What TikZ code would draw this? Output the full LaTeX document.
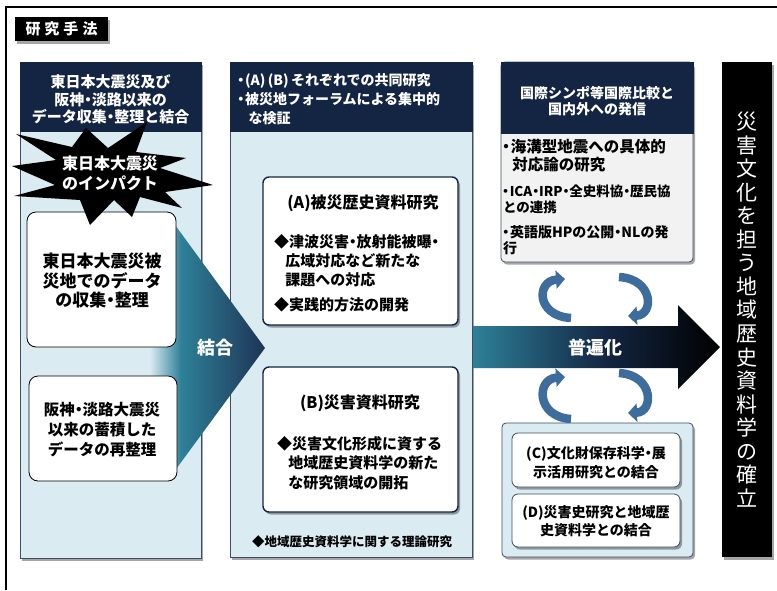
\documentclass[tikz,border=0pt]{standalone}
\usepackage{fontspec}
\setmainfont{Noto Sans CJK JP}
\usetikzlibrary{shadows,arrows.meta}
\definecolor{navy}{RGB}{19,37,66}
\definecolor{lbg}{RGB}{218,235,242}
\definecolor{bord}{RGB}{60,78,99}
\definecolor{rbody}{RGB}{242,242,242}
\definecolor{tealc}{RGB}{46,128,152}
\definecolor{navyc}{RGB}{30,52,85}
\definecolor{arrowblue}{RGB}{62,108,156}
\pgfdeclarehorizontalshading{ketsugo}{100bp}{color(0bp)=(lbg); color(27bp)=(lbg); color(40bp)=(tealc); color(75bp)=(navyc); color(100bp)=(navyc)}
\pgfdeclarehorizontalshading{fuhen}{100bp}{color(0bp)=(tealc); color(25bp)=(tealc); color(52bp)=(navy); color(75bp)=(black); color(100bp)=(black)}
\newcommand{\mydot}{\kern-0.25em・\kern-0.25em}
\newcommand{\lead}{\kern-0.3em・\kern-0.2em}
\newcommand{\fs}[2]{\fontsize{#1}{#2}\selectfont}
\begin{document}
\begin{tikzpicture}[x=1pt,y=-1pt,
  shad/.style={drop shadow={shadow xshift=2pt,shadow yshift=-2.5pt,fill=black,opacity=0.35}},
  colbody/.style={fill=lbg,draw=bord,line width=0.8pt,shad},
  header/.style={fill=navy,draw=navy,line width=0.8pt},
  wbox/.style={fill=white,draw=black,line width=0.8pt,rounded corners=9pt},
  abbox/.style={fill=white,draw=navy,line width=1.4pt,rounded corners=6pt,shad},
  cdbox/.style={fill=white,draw=bord,line width=0.8pt,rounded corners=6pt,shad},
  txt/.style={inner sep=0pt,outer sep=0pt},
  cyc/.style={draw=arrowblue,line width=8.5pt,-{Triangle[width=18pt,length=9pt]}}]
\useasboundingbox (0,0) rectangle (777,590);
% outer frame
\draw[line width=1.2pt] (6,590) -- (6,7) -- (777,7);
% title
\fill[black,shad] (15,17) rectangle (108,41);
\node[txt,text=white,font=\fs{15}{18}\bfseries] (title) at (61.5,29) {研\hspace{4pt}究\hspace{4pt}手\hspace{4pt}法};

% left column
\path[colbody] (20,62) rectangle (201,558);
\path[header] (20,62) rectangle (201,131);
\node[txt,text=white,align=center,font=\fs{15}{17.5}\bfseries] (lhead) at (110.5,99.5)
  {東日本大震災及び\\阪神\mydot 淡路以来の\\データ収集\mydot 整理と結合};

% middle column
\path[colbody] (230,62) rectangle (472,557);
\path[header] (230,62) rectangle (472,131);
\node[txt,text=white,align=left,anchor=west,font=\fs{14}{19}\bfseries] (mhead) at (238,99)
  {\lead(A)\,(B)\,それぞれでの共同研究\\\lead 被災地フォーラムによる集中的\\\hspace*{0.75em}な検証};

% right column
\path[fill=rbody,draw=bord,line width=0.8pt,rounded corners=4pt,shad] (501,62) rectangle (693,262);
\path[header] (501,62) rectangle (693,133);
\node[txt,text=white,align=center,font=\fs{14}{16.5}\bfseries] (rhead) at (597,101)
  {国際シンポ等国際比較と\\国内外への発信};
\node[txt,align=left,anchor=west,font=\fs{15.5}{18}\bfseries] (r1) at (503,156)
  {\lead 海溝型地震への具体的\\\hspace*{0.6em}対応論の研究};
\node[txt,align=left,anchor=west,font=\fs{13.5}{15.5}\bfseries] (r2) at (503,199.5)
  {\lead ICA\mydot IRP\mydot 全史料協\mydot 歴民協\\との連携};
\node[txt,align=left,anchor=west,font=\fs{14}{16}\bfseries] (r3) at (503,240)
  {\lead 英語版HPの公開\mydot NLの発\\行};

% bottom right
\path[fill=lbg,draw=bord,line width=0.8pt,rounded corners=4pt,shad] (502,423) rectangle (693,557);
\path[cdbox] (512,433) rectangle (680,487);
\path[cdbox] (512,494) rectangle (680,547);
\node[txt,align=center,font=\fs{14}{19}\bfseries] (ctext) at (596,462.5)
  {(C)文化財保存科学\mydot 展\\示活用研究との結合};
\node[txt,align=center,font=\fs{14}{18}\bfseries] (dtext) at (596,521.5)
  {(D)災害史研究と地域歴\\史資料学との結合};

% black vertical box
\fill[black,shad] (722,62) rectangle (772,557);
\node[txt,text=white,align=center,font=\fs{21}{23.55}] (vert) at (747,309.5)
  {災\\害\\文\\化\\を\\担\\う\\地\\域\\歴\\史\\資\\料\\学\\の\\確\\立};

% ketsugo arrow
\shade[shading=ketsugo] (145,214) -- (167,214) -- (265,348) -- (168,480) -- (145,480) -- cycle;
\node[txt,text=white,font=\fs{18}{20}\bfseries] (ketsugo) at (215,348) {結合};

% fuhenka arrow
\shade[shading=fuhen] (473,326) -- (678,326) -- (678,305) -- (720,347) -- (678,389) -- (678,368) -- (473,368) -- cycle;
\node[txt,text=white,font=\fs{18}{20}\bfseries] (fuhen) at (595,348) {普遍化};

% left boxes
\path[wbox] (27,212) rectangle (176,347);
\node[txt,align=center,font=\fs{17}{19.5}\bfseries] (b1) at (102,281)
  {東日本大震災被\\災地でのデータ\\の収集\mydot 整理};
\path[wbox] (29,376) rectangle (177,481);
\node[txt,align=center,font=\fs{15.5}{20}\bfseries] (b2) at (102,430)
  {阪神\mydot 淡路大震災\\以来の蓄積した\\データの再整理};

% starburst
\fill[black] (147,122) -- (136,152) -- (186,158) -- (160,168) -- (213,185) -- (165,192) -- (182,208) -- (140,197)
  -- (132,217) -- (114,200) -- (90,225) -- (80,200) -- (14,196) -- (55,185) -- (12,166) -- (56,160)
  -- (16,134) -- (72,147) -- (86,128) -- (108,148) -- cycle;
\node[txt,text=white,align=center,font=\fs{16}{20}\bfseries] (impact) at (110,173) {東日本大震災\\のインパクト};

% box A
\path[abbox] (263,177) rectangle (458,325);
\node[txt,font=\fs{16}{18}\bfseries] (atitle) at (363,203) {(A)被災歴史資料研究};
\node[txt,align=left,anchor=west,font=\fs{15}{19}\bfseries] (abody) at (274,261)
  {◆津波災害\mydot 放射能被曝\mydot\\\hspace*{0.75em}広域対応など新たな\\\hspace*{0.75em}課題への対応};
\node[txt,anchor=west,font=\fs{15}{19}\bfseries] (abody2) at (274,305) {◆実践的方法の開発};

% box B
\path[abbox] (263,367) rectangle (458,512);
\node[txt,font=\fs{16}{18}\bfseries] (btitle) at (360,403) {(B)災害資料研究};
\node[txt,align=left,anchor=west,font=\fs{15}{19.5}\bfseries] (bbody) at (277,463)
  {◆災害文化形成に資する\\\hspace*{0.75em}地域歴史資料学の新た\\\hspace*{0.75em}な研究領域の開拓};
\node[txt,font=\fs{12.5}{14}\bfseries] (foot) at (352,542) {◆地域歴史資料学に関する理論研究};

% cycle arrows
\draw[cyc] (571,318) .. controls (536,316) and (536,281) .. (565,279);
\draw[cyc] (619,277) .. controls (654,279) and (654,315) .. (628,316);
\draw[cyc] (571,419) .. controls (536,417) and (536,379) .. (565,377);
\draw[cyc] (619,373) .. controls (654,375) and (654,412) .. (628,413);
\end{tikzpicture}
\end{document}
